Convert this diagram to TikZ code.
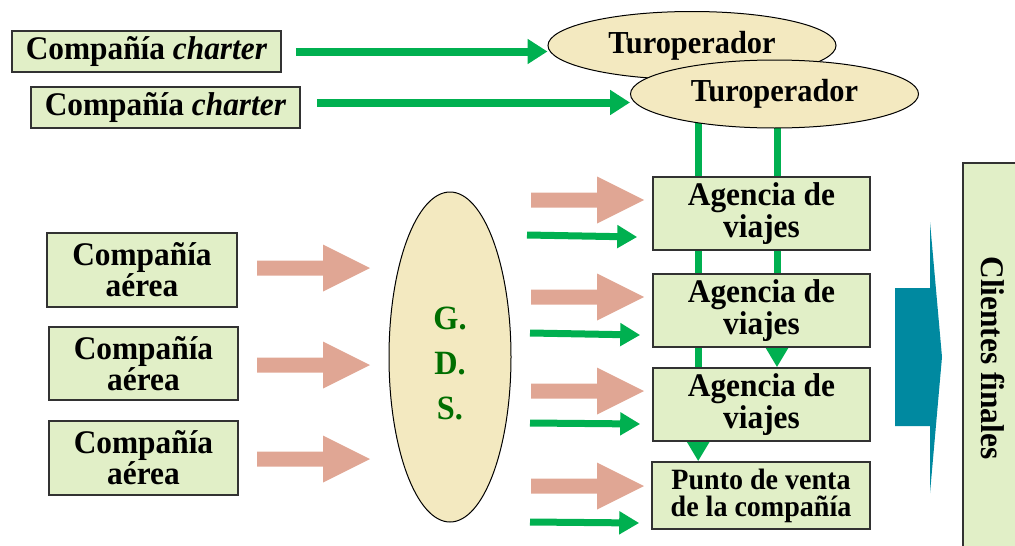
\documentclass[tikz,border=0pt]{standalone}
\usepackage{fontspec}
\setmainfont[FakeStretch=0.95]{Liberation Serif}
\usetikzlibrary{shapes.geometric,arrows.meta,backgrounds}

\definecolor{boxgreen}{RGB}{225,239,199}
\definecolor{tourbeige}{RGB}{243,233,192}
\definecolor{flowgreen}{RGB}{0,176,80}
\definecolor{gdsgreen}{RGB}{0,110,0}
\definecolor{salmonfill}{RGB}{224,166,148}
\definecolor{clientteal}{RGB}{0,137,160}
\definecolor{edgegray}{RGB}{50,50,50}

\tikzset{
  box/.style={draw=edgegray, line width=1.6pt, fill=boxgreen, align=center, inner sep=0pt,
    font=\fontsize{33}{28}\selectfont\bfseries},
  tour/.style={ellipse, draw=black, line width=1pt, fill=tourbeige, inner sep=0pt,
    minimum width=288pt, minimum height=68pt, font=\fontsize{32}{30}\selectfont\bfseries},
  flow/.style={draw=flowgreen, line width=7pt, -{Triangle[length=20pt,width=22pt]}},
  topflow/.style={flow, line width=8pt, -{Triangle[length=20pt,width=24pt]}}
}

\newcommand{\salmonarrow}[1]{%
  \fill[salmonfill, shift={(#1)}] (0,-7.5) -- (66,-7.5) -- (66,-23.5) -- (113,0)
    -- (66,23.5) -- (66,7.5) -- (0,7.5) -- cycle;}

\begin{document}
\begin{tikzpicture}[x=1pt, y=-1pt]
  \useasboundingbox (0,0) rectangle (1015,546);
  \clip (0,0) rectangle (1015,546);
  % charter companies and tour operators
  \node[box, minimum width=269pt, minimum height=41pt] (ch1) at (146.5,51.5) {Compañía \textit{charter}};
  \node[box, minimum width=269pt, minimum height=41pt] (ch2) at (165.5,107.5) {Compañía \textit{charter}};
  \node[tour] (tur1) at (692,45.5) {Turoperador};
  \node[tour] (tur2) at (774.5,94) {Turoperador};
  \draw[topflow] ([xshift=14pt]ch1.east) -- (ch1.east -| tur1.west);
  \draw[topflow] ([xshift=16pt,yshift=5pt]ch2.east) -- ([yshift=5pt]ch2.east -| tur2.west);
  % airlines and G.D.S.
  \node[box, minimum width=190pt, minimum height=74pt] (ca1) at (142,270) {Compañía\\aérea};
  \node[box, minimum width=189pt, minimum height=73pt] (ca2) at (143.5,363.5) {Compañía\\aérea};
  \node[box, minimum width=189pt, minimum height=74pt] (ca3) at (143.5,458) {Compañía\\aérea};
  \node[ellipse, draw=black, line width=1pt, fill=tourbeige, inner sep=0pt, minimum width=122pt,
    minimum height=330pt,
    label={[text=gdsgreen, align=center, yshift=-6pt, font=\fontsize{34}{45}\selectfont\bfseries]center:{G.\\D.\\S.}}]
    (gds) at (450,357) {};
  \foreach \yy in {268,365,459} {\salmonarrow{257,\yy}}
  % sales points
  \node[box, minimum width=217pt, minimum height=73pt] (ag1) at (761.5,213.5) {Agencia de\\viajes};
  \node[box, minimum width=217pt, minimum height=73pt] (ag2) at (761.5,310.5) {Agencia de\\viajes};
  \node[box, minimum width=217pt, minimum height=73pt] (ag3) at (761.5,404.5) {Agencia de\\viajes};
  \node[box, minimum width=218pt, minimum height=67pt, font=\fontsize{29.5}{27}\selectfont\bfseries]
    (pv) at (761,495.5) {Punto de venta\\de la compañía};
  \foreach \yy in {200,297,391,486} {\salmonarrow{531,\yy}}
  \coordinate (g1) at (527,235);
  \coordinate (g2) at (530,333);
  \coordinate (g3) at (530,423);
  \coordinate (g4) at (530,522);
  \draw[flow] (g1) -- ([xshift=-15pt,yshift=-23.5pt]ag1.west);
  \draw[flow] (g2) -- ([xshift=-12pt,yshift=-24.5pt]ag2.west);
  \draw[flow] (g3) -- ([xshift=-12pt,yshift=-19.5pt]ag3.west);
  \draw[flow] (g4) -- ([xshift=-12pt,yshift=-27.5pt]pv.west);
  % tour operator lines behind the boxes
  \begin{scope}[on background layer]
    \draw[flow] ([xshift=47pt]pv.north west |- tur2.center) -- ([xshift=47pt]pv.north west);
    \draw[flow] ([xshift=15.5pt]ag3.north |- tur2.center) -- ([xshift=15.5pt]ag3.north);
  \end{scope}
  % final clients
  \fill[clientteal] (895,288) -- (930,288) -- (930,222) -- (942,357) -- (930,493) -- (930,426)
    -- (895,426) -- cycle;
  \node[box, rotate=-90, minimum width=390pt, minimum height=60pt] (cf) at (993,358) {Clientes finales};
\end{tikzpicture}
\end{document}
